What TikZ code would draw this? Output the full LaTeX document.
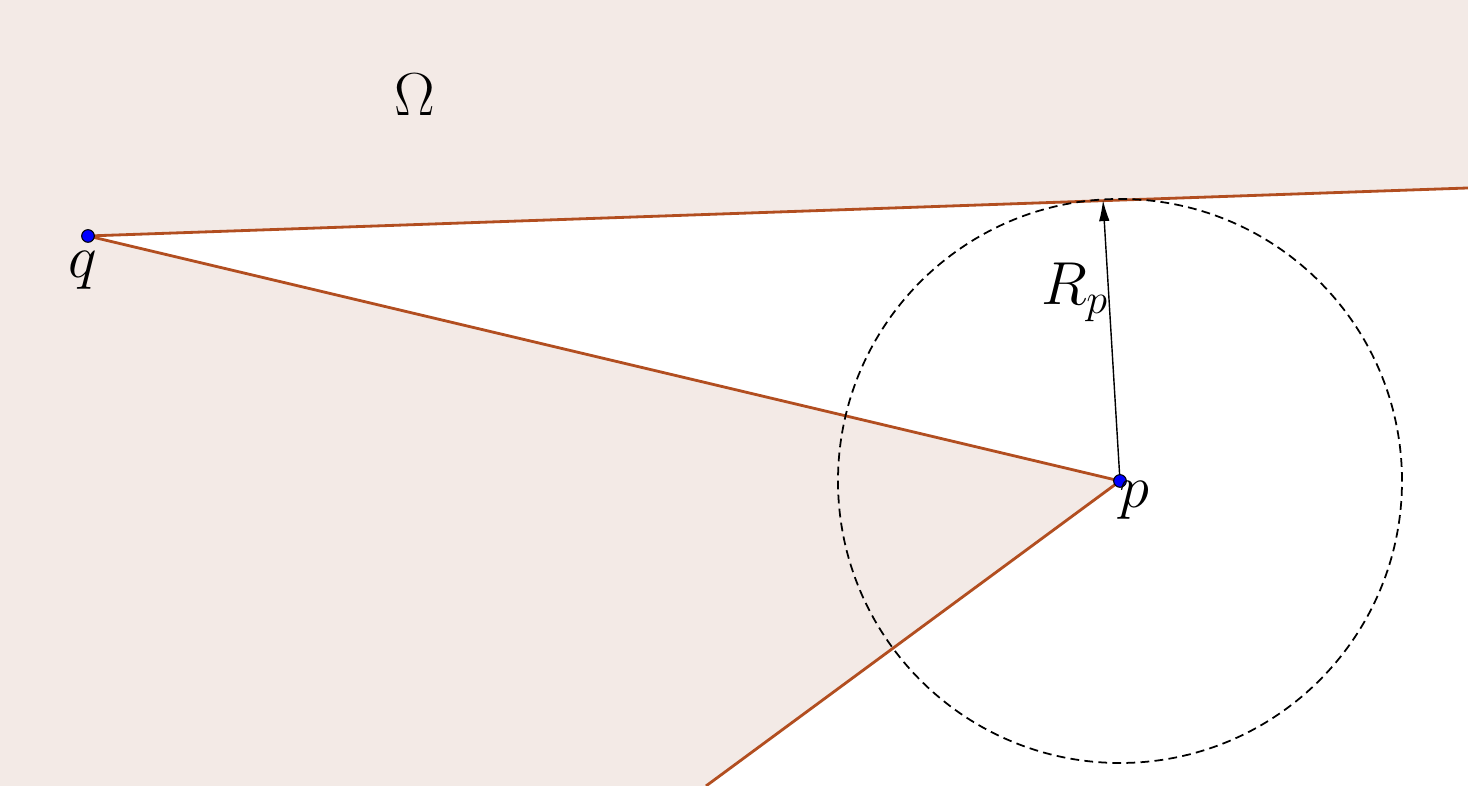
\documentclass[tikz,border=0pt]{standalone}
\usepackage{amssymb}
\usepackage{amsmath}
\usetikzlibrary{arrows.meta}
\definecolor{omegafill}{RGB}{243,234,230}
\definecolor{edgebrown}{RGB}{178,78,32}
\tikzset{
  bdry/.style={color=edgebrown,line width=0.8pt},
  pt/.style={circle,fill=blue,draw=black,line width=0.3pt,inner sep=0pt,minimum size=3.6pt},
  lbl/.style={font=\LARGE}
}
\begin{document}
\begin{tikzpicture}
\useasboundingbox (0,0) rectangle (14.68,7.86);
\coordinate (q) at (0.88,5.50);
\coordinate (p) at (11.20,3.05);
\coordinate (topR) at (14.68,5.98);
\coordinate (botL) at (7.06,0);
\coordinate (tan) at (11.03,5.86);
% domain and the cut-out wedge
\fill[color=omegafill] (0,0) rectangle (14.68,7.86);
\fill[color=white] (q) -- (topR) -- (14.68,0) -- (botL) -- (p) -- cycle;
\draw[bdry] (q) -- (topR);
\draw[bdry] (q) -- (p) -- (botL);
\draw[dash pattern=on 2.5pt off 1.5pt,line width=0.5pt] (p) circle (2.82);
\draw[-{Latex[length=6pt,width=3pt]},line width=0.4pt] (p) -- (tan);
\node[pt] (qdot) at (q) {};
\node[pt] (pdot) at (p) {};
\node[lbl] (ql) at (0.83,5.16) {$q$};
\node[lbl] (pl) at (11.34,2.86) {$p$};
\node[lbl] (rl) at (10.75,4.94) {$R_p$};
\node[lbl] (om) at (4.15,6.91) {$\Omega$};
\end{tikzpicture}
\end{document}
